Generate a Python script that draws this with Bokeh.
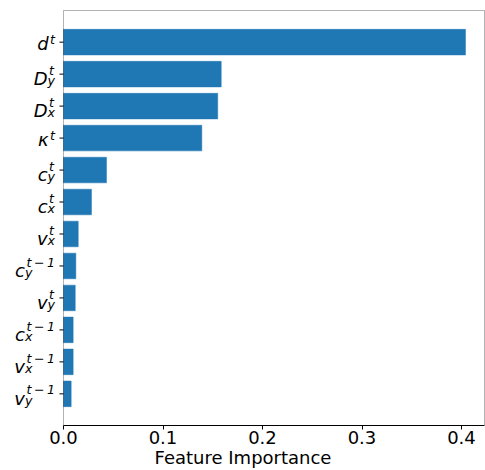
import numpy as np
from bokeh.plotting import figure
from bokeh.models import ColumnDataSource, Label, Range1d, FixedTicker, PrintfTickFormatter, BoxAnnotation
from bokeh.embed import file_html
from bokeh.resources import INLINE

# ---- data (top to bottom) ----
bases = ["d", "D", "D", "\u03ba", "c", "c", "v", "c", "v", "c", "v", "v"]
sups = ["t", "t", "t", "t", "t", "t", "t",
        "t\u2009\u2212\u20091", "t", "t\u2009\u2212\u20091", "t\u2009\u2212\u20091", "t\u2009\u2212\u20091"]
subs = ["", "y", "x", "", "y", "x", "x", "y", "y", "x", "x", "y"]
importance = [0.404, 0.1585, 0.155, 0.139, 0.0432, 0.0281, 0.0148, 0.0124, 0.0118, 0.0097, 0.0097, 0.0077]
x_ticks = [0.0, 0.1, 0.2, 0.3, 0.4]
x_label = "Feature Importance"

n = len(importance)
ypos = [n - 1 - i for i in range(n)]
bar_h = 0.8
lo, hi = -bar_h / 2, n - 1 + bar_h / 2
pad = 0.05 * (hi - lo)
y_bottom, y_top = lo - pad, hi + pad

# ---- layout (pixels) ----
W, H = 485, 470
AX_LEFT_PX = 63          # where x = 0 sits
PX_PER_X = 995.0         # pixels per unit of importance
AX_RIGHT_PX = 484        # right spine
TOP_PX = 9               # frame top
PX_PER_Y = 411.0 / (y_top - y_bottom)

x_lo = -AX_LEFT_PX / PX_PER_X
x_hi = x_lo + W / PX_PER_X
x_spine = (AX_RIGHT_PX - AX_LEFT_PX) / PX_PER_X
tick_len = 4.0 / PX_PER_X

FONT = "DejaVu Sans"
BASE_SIZE = 18
SCRIPT_SIZE = 12.6
MID_EM = 0.346           # baseline lies this far below the "middle" anchor (DejaVu Sans)
EM = {"t": 0.392, "x": 0.592, "y": 0.592, "\u2212": 0.838, "1": 0.636, "\u2009": 0.2}


def wscript(s):
    return sum(EM.get(ch, 0.6) for ch in s) * SCRIPT_SIZE


def yoff(baseline_below_tick, size):
    # screen offset (positive = up) that puts the text baseline at the wanted depth
    return -(baseline_below_tick - MID_EM * size)


SUP_SHIFT = 1.5
RIGHT = -8.5

p = figure(width=W, height=H, output_backend="svg", toolbar_location=None, title=None,
           x_range=Range1d(x_lo, x_hi), y_range=Range1d(y_bottom, y_top + 1.0 / PX_PER_Y),
           min_border_left=0, min_border_right=0, min_border_top=TOP_PX, min_border_bottom=0)
p.background_fill_color = "white"
p.border_fill_color = "white"
p.outline_line_color = None
p.xgrid.visible = False
p.ygrid.visible = False

src = ColumnDataSource(dict(y=ypos, imp=importance))
p.hbar(y="y", left=0, right="imp", height=bar_h, source=src,
       fill_color="#1f77b4", line_color="#1f77b4", line_width=0.5)

# axes box (spines)
p.add_layout(BoxAnnotation(left=0, right=x_spine, bottom=y_bottom, top=y_top,
                           fill_color=None, fill_alpha=0, line_color="black", line_width=1))

# y tick marks
p.segment(x0=[0.0] * n, x1=[-tick_len] * n, y0=ypos, y1=ypos, line_color="black", line_width=1)

# math-like tick labels: italic base letter + superscript + subscript
for b, su, sb, yy in zip(bases, sups, subs, ypos):
    w = max(wscript(sb), SUP_SHIFT + wscript(su))
    a = RIGHT - w
    if sb:
        bb, sp, ub = 10.5, 0.5, 11.0
    else:
        bb, sp, ub = 8.0, 1.5, 11.0
    common = dict(x=0, y=yy, x_units="data", y_units="data",
                  text_font=FONT, text_font_style="italic", text_color="black",
                  text_baseline="middle")
    p.add_layout(Label(text=b, x_offset=a, y_offset=yoff(bb, BASE_SIZE), text_align="right",
                       text_font_size=f"{BASE_SIZE}px", **common))
    p.add_layout(Label(text=su, x_offset=a + SUP_SHIFT, y_offset=yoff(sp, SCRIPT_SIZE),
                       text_align="left", text_font_size=f"{SCRIPT_SIZE}px", **common))
    if sb:
        p.add_layout(Label(text=sb, x_offset=a, y_offset=yoff(ub, SCRIPT_SIZE), text_align="left",
                           text_font_size=f"{SCRIPT_SIZE}px", **common))

# x axis
p.xaxis.bounds = (0, x_spine)
p.xaxis.ticker = FixedTicker(ticks=x_ticks)
p.xaxis.formatter = PrintfTickFormatter(format="%.1f")
p.xaxis.axis_label = x_label
p.xaxis.axis_label_text_font = FONT
p.xaxis.axis_label_text_font_style = "normal"
p.xaxis.axis_label_text_font_size = "18px"
p.xaxis.axis_label_text_color = "black"
p.xaxis.axis_label_standoff = 0
p.xaxis.major_label_text_font = FONT
p.xaxis.major_label_text_font_size = "18px"
p.xaxis.major_label_text_color = "black"
p.xaxis.major_label_standoff = 1
p.xaxis.major_tick_out = 4
p.xaxis.major_tick_in = 0
p.xaxis.minor_tick_line_color = None
p.xaxis.axis_line_color = "black"
p.xaxis.major_tick_line_color = "black"

p.yaxis.visible = False

open("out.html", "w").write(file_html(p, INLINE))
